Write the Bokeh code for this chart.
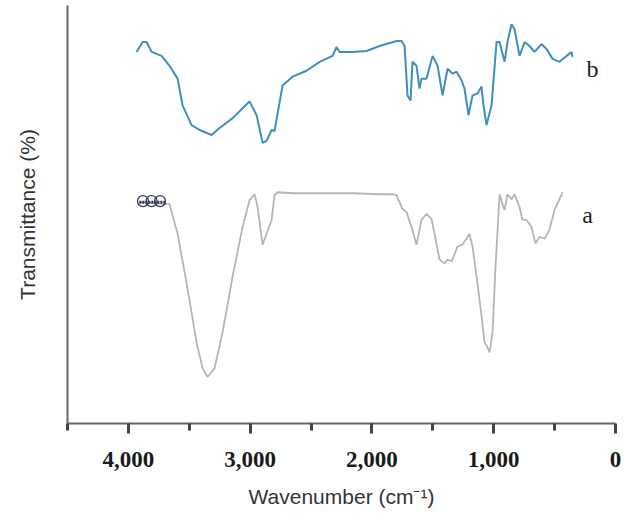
from bokeh.plotting import figure
from bokeh.models import Range1d, FixedTicker, NumeralTickFormatter, Label
from bokeh.embed import file_html
from bokeh.resources import INLINE

# Spectrum b (blue): wavenumber (cm-1) and relative transmittance (arbitrary units)
b_wn = [3933, 3883, 3850, 3809, 3727, 3662, 3596, 3555, 3481, 3415, 3317, 3251, 3144, 3046,
        3005, 2947, 2898, 2865, 2824, 2800, 2734, 2652, 2537, 2430, 2323, 2291, 2266, 2159,
        2044, 1938, 1798, 1757, 1732, 1708, 1683, 1667, 1634, 1609, 1593, 1552, 1502, 1461,
        1420, 1379, 1338, 1305, 1264, 1240, 1207, 1174, 1133, 1100, 1084, 1059, 1018, 977,
        952, 911, 887, 854, 829, 788, 747, 706, 665, 608, 566, 517, 460, 402, 361, 353]
b_tr = [376, 386, 386, 376, 372, 362, 349, 322, 302, 297, 292, 299, 309, 321,
        326, 312, 284, 286, 297, 296, 342, 351, 357, 366, 372, 381, 376, 376,
        377, 382, 387, 387, 382, 332, 327, 366, 362, 339, 349, 349, 372, 362,
        332, 359, 354, 356, 347, 339, 312, 332, 334, 341, 322, 302, 322, 386,
        386, 366, 386, 404, 399, 372, 386, 382, 376, 384, 379, 369, 366, 372, 376, 371]

# Spectrum a (gray)
a_wn = [3910, 3662, 3596, 3522, 3440, 3391, 3350, 3292, 3227, 3144, 3062, 3005, 2964, 2939,
        2898, 2865, 2824, 2800, 2775, 2652, 2159, 1938, 1831, 1798, 1749, 1716, 1675, 1634,
        1593, 1552, 1511, 1486, 1445, 1404, 1379, 1346, 1297, 1256, 1199, 1174, 1141, 1100,
        1076, 1059, 1034, 1010, 985, 952, 928, 911, 887, 854, 829, 788, 764, 731, 690, 657,
        624, 583, 542, 501, 435]
a_tr = [224, 222, 192, 142, 82, 56, 47, 56, 92, 149, 199, 226, 232, 219,
        181, 192, 206, 231, 234, 233, 233, 232, 232, 231, 217, 214, 199, 181,
        206, 212, 207, 192, 166, 162, 166, 164, 179, 181, 192, 179, 149, 109,
        82, 79, 72, 92, 159, 232, 222, 216, 232, 227, 232, 219, 206, 206, 199, 182,
        189, 187, 196, 216, 234]

# small symbol cluster at the start of curve a
sym_wn = [3880, 3810, 3740]
sym_tr = [225, 225, 225]

x_ticks = [4000, 3000, 2000, 1000, 0]
x_minor = [4500, 3500, 2500, 1500, 500]

p = figure(width=624, height=510, output_backend="svg", toolbar_location=None,
           x_range=Range1d(4500, 0), y_range=Range1d(0, 423),
           min_border_left=67, min_border_right=9, min_border_top=5, min_border_bottom=82)
p.outline_line_color = None
p.xgrid.visible = False
p.ygrid.visible = False
p.background_fill_color = "white"

p.line(a_wn, a_tr, line_color="#b5b5b5", line_width=1.8)
p.line(b_wn, b_tr, line_color="#3f8fbf", line_width=2)
p.line([3910, 3700], [224, 224], line_color="#2a3550", line_width=3, line_dash="2 1")
p.scatter(sym_wn, sym_tr, marker="circle", size=11, fill_color=None,
          line_color="#3a3f55", line_width=1.3)

# X axis
xa = p.xaxis[0]
xa.ticker = FixedTicker(ticks=x_ticks, minor_ticks=x_minor)
xa.formatter = NumeralTickFormatter(format="0,0")
xa.axis_line_color = "#666666"
xa.axis_line_width = 2
xa.major_tick_line_color = "#444444"
xa.major_tick_line_width = 3
xa.major_tick_out = 10
xa.major_tick_in = 0
xa.minor_tick_line_color = "#444444"
xa.minor_tick_line_width = 3
xa.minor_tick_out = 7
xa.minor_tick_in = 0
xa.major_label_text_font = "Liberation Serif"
xa.major_label_text_font_style = "bold"
xa.major_label_text_font_size = "23px"
xa.major_label_text_color = "#1a1a1a"
xa.major_label_standoff = 18
xa.axis_label = "Wavenumber (cm\u207b\u00b9)"
xa.axis_label_text_font = "Liberation Sans"
xa.axis_label_text_font_style = "normal"
xa.axis_label_text_font_size = "21px"
xa.axis_label_text_color = "#333333"
xa.axis_label_standoff = 15

# Y axis
ya = p.yaxis[0]
ya.ticker = FixedTicker(ticks=[])
ya.major_label_text_font_size = "0px"
ya.major_tick_out = 0
ya.minor_tick_out = 0
ya.axis_line_color = "#666666"
ya.axis_line_width = 2
ya.axis_label = "Transmittance (%)"
ya.axis_label_text_font = "Liberation Sans"
ya.axis_label_text_font_style = "normal"
ya.axis_label_text_font_size = "21px"
ya.axis_label_text_color = "#333333"
ya.axis_label_standoff = 29

p.add_layout(Label(x=189, y=359, text="b", text_font="Liberation Serif",
                   text_font_size="24px", text_color="#222222",
                   text_align="center", text_baseline="middle"))
p.add_layout(Label(x=230, y=211, text="a", text_font="Liberation Serif",
                   text_font_size="24px", text_color="#222222",
                   text_align="center", text_baseline="middle"))

open("out.html", "w").write(file_html(p, INLINE))
